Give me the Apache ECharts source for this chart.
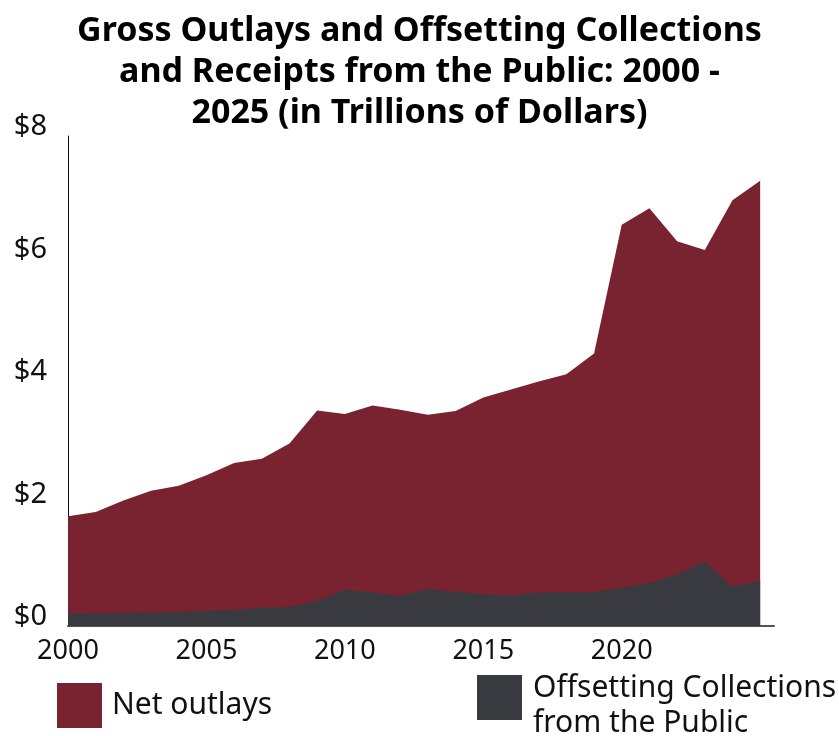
<!DOCTYPE html>
<html>
<head>
<meta charset="utf-8">
<script src="https://cdn.jsdelivr.net/npm/echarts@6/dist/echarts.min.js"></script>
<style>
  html, body { margin: 0; padding: 0; background: #fff; }
  #chart { width: 839px; height: 736px; }
</style>
</head>
<body>
<div id="chart"></div>
<script>
// fiscal years
var years = [2000, 2001, 2002, 2003, 2004, 2005, 2006, 2007, 2008, 2009, 2010, 2011, 2012,
  2013, 2014, 2015, 2016, 2017, 2018, 2019, 2020, 2021, 2022, 2023, 2024, 2025];
// offsetting collections from the public (trillions)
var offsetting = [0.20, 0.21, 0.21, 0.22, 0.23, 0.25, 0.26, 0.30, 0.31, 0.41, 0.59, 0.55, 0.49,
  0.61, 0.56, 0.52, 0.50, 0.55, 0.55, 0.55, 0.63, 0.70, 0.84, 1.05, 0.64, 0.74];
// net outlays (trillions), sits on top of offsetting
var netOutlays = [1.59, 1.65, 1.84, 1.99, 2.06, 2.21, 2.40, 2.43, 2.67, 3.11, 2.87, 3.05, 3.04,
  2.84, 2.95, 3.21, 3.36, 3.44, 3.56, 3.90, 5.92, 6.12, 5.44, 5.09, 6.31, 6.53];
var yTicks = [0, 2, 4, 6, 8];

var RED = '#7a2330';
var GRAY = '#383a40';
var FONT = 'Noto Sans';

// value x-axis stacks on x, so stack by hand: red area = gross total, gray drawn over it
var gross = netOutlays.map(function (v, i) { return +(v + offsetting[i]).toFixed(2); });

function pairs(vals) {
  return years.map(function (y, i) { return [y, vals[i]]; });
}

var chart = echarts.init(document.getElementById('chart'));
chart.setOption({
  animation: false,
  title: {
    text: 'Gross Outlays and Offsetting Collections\nand Receipts from the Public: 2000 -\n2025 (in Trillions of Dollars)',
    left: 'center',
    top: 6,
    textStyle: {
      fontFamily: FONT,
      fontWeight: 'bold',
      fontSize: 34,
      lineHeight: 41,
      color: '#000',
      align: 'center'
    }
  },
  grid: { left: 68, right: 65, top: 136, bottom: 110, containLabel: false },
  legend: [{
    left: 52,
    top: 678,
    icon: 'rect',
    itemWidth: 45,
    itemHeight: 45,
    data: ['Net outlays'],
    textStyle: { fontFamily: FONT, fontSize: 30, color: '#111', padding: [0, 0, 0, 5] }
  }, {
    left: 472,
    top: 657,
    icon: 'rect',
    itemWidth: 45,
    itemHeight: 45,
    data: ['Offsetting Collections from the Public'],
    // small spacer line on top pushes the two text lines down a bit
    formatter: function () { return '{s| }\n{a|Offsetting Collections}\n{a|from the Public}'; },
    textStyle: {
      padding: [0, 0, 0, 6],
      rich: {
        s: { fontSize: 1, lineHeight: 17 },
        a: { fontFamily: FONT, fontSize: 30, lineHeight: 35, color: '#111' }
      }
    }
  }],
  xAxis: {
    type: 'value',
    min: 2000,
    max: 2025.5,
    interval: 5,
    axisLine: { show: true, lineStyle: { color: '#555', width: 2 } },
    axisTick: { show: false },
    splitLine: { show: false },
    axisLabel: {
      fontFamily: FONT,
      fontSize: 27,
      color: '#111',
      margin: 12,
      formatter: function (v) { return (v % 5 === 0 && v <= 2020) ? String(v) : ''; }
    }
  },
  yAxis: {
    type: 'value',
    min: yTicks[0],
    max: yTicks[yTicks.length - 1],
    interval: 2,
    axisLine: { show: true, lineStyle: { color: '#111', width: 1 } },
    axisTick: { show: false },
    splitLine: { show: false },
    axisLabel: {
      fontFamily: FONT,
      fontSize: 29,
      color: '#111',
      margin: 21,
      verticalAlign: 'bottom',
      lineHeight: 18,
      formatter: function (v) { return '$' + v; }
    }
  },
  series: [{
    name: 'Net outlays',
    type: 'line',
    symbol: 'none',
    lineStyle: { width: 0 },
    itemStyle: { color: RED },
    areaStyle: { color: RED, opacity: 1 },
    data: pairs(gross),
    z: 2
  }, {
    name: 'Offsetting Collections from the Public',
    type: 'line',
    symbol: 'none',
    lineStyle: { width: 0 },
    itemStyle: { color: GRAY },
    areaStyle: { color: GRAY, opacity: 1 },
    data: pairs(offsetting),
    z: 3
  }]
});
</script>
</body>
</html>
